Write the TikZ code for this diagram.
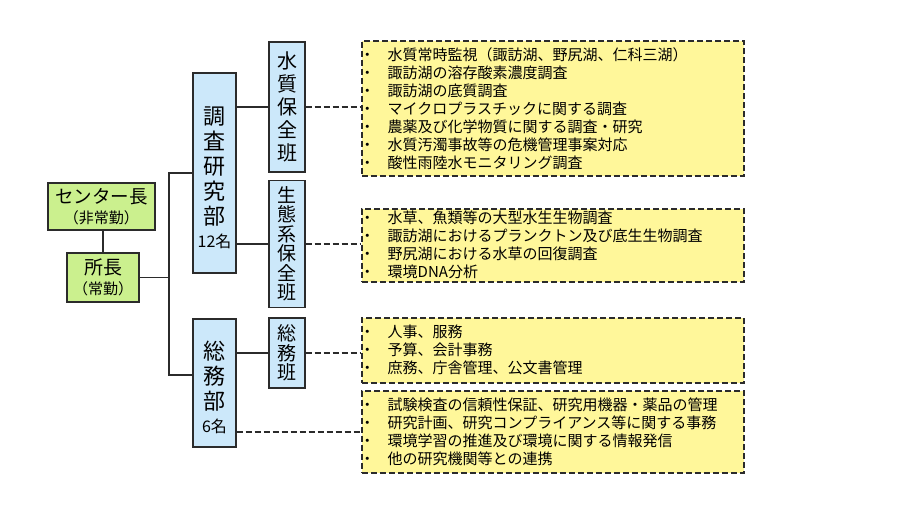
\documentclass[tikz,border=0pt]{standalone}
\usepackage{fontspec}
\setmainfont{Noto Sans CJK JP}
\usetikzlibrary{positioning}
\definecolor{headgreen}{HTML}{CBF08E}
\definecolor{unitblue}{HTML}{CCE8FA}
\definecolor{notecolor}{HTML}{FFF79A}
\definecolor{edgegray}{HTML}{2B2B2B}
\newcommand{\itm}[1]{\makebox[26pt][l]{\hspace{-2pt}・}#1}

\begin{document}
\begin{tikzpicture}[x=1pt,y=-1pt,line width=1.3pt,
  headbox/.style={draw=edgegray,fill=headgreen,inner sep=0pt,align=center,font=\fontsize{15}{20}\selectfont},
  unitbox/.style={draw=edgegray,fill=unitblue,inner sep=0pt,align=center},
  notebox/.style={draw=edgegray,fill=notecolor,line width=1.5pt,dash pattern=on 6pt off 3pt,anchor=north west,
    inner sep=0pt,text width=382pt,align=left,font=\fontsize{15}{18}\selectfont},
  link/.style={draw=edgegray},
  duty/.style={draw=edgegray,line width=1.5pt,dash pattern=on 6pt off 3pt}]
\useasboundingbox (0,0) rectangle (900,507);

\node[headbox,minimum width=107pt,minimum height=47pt] (chief) at (101.5,206.5)
  {{\fontsize{18.5}{20}\selectfont センター長}\\（非常勤）};
\node[headbox,minimum width=72pt,minimum height=49pt] (director) at (103,277.5)
  {{\fontsize{19}{20}\selectfont 所長}\\（常勤）};

\node[unitbox,minimum width=43pt,minimum height=200pt,font=\fontsize{22}{25}\selectfont] (research) at (214.5,173)
  {\rule{0pt}{28pt}調\\査\\研\\究\\部\\[-2pt]{\fontsize{16}{18}\selectfont 12名}};
\node[unitbox,minimum width=43pt,minimum height=128pt,font=\fontsize{22}{25}\selectfont] (general) at (214.5,383)
  {\rule{0pt}{28pt}総\\務\\部\\[-2pt]{\fontsize{16}{18}\selectfont 6名}};

\node[unitbox,minimum width=36pt,minimum height=130pt,font=\fontsize{20}{23}\selectfont] (water) at (287,107)
  {水\\質\\保\\全\\班};
\node[unitbox,minimum width=36pt,minimum height=127pt,font=\fontsize{19}{19.5}\selectfont] (eco) at (287,244)
  {生\\態\\系\\保\\全\\班};
\node[unitbox,minimum width=36pt,minimum height=70pt,font=\fontsize{19}{19.5}\selectfont] (admin) at (287,353)
  {総\\務\\班};

\node[notebox,minimum height=135pt] (waternote) at (361,40)
  {\itm{水質常時監視（諏訪湖、野尻湖、仁科三湖）}\\
   \itm{諏訪湖の溶存酸素濃度調査}\\
   \itm{諏訪湖の底質調査}\\
   \itm{マイクロプラスチックに関する調査}\\
   \itm{農薬及び化学物質に関する調査・研究}\\
   \itm{水質汚濁事故等の危機管理事案対応}\\
   \itm{酸性雨陸水モニタリング調査}};
\node[notebox,minimum height=73pt] (econote) at (361,208)
  {\itm{水草、魚類等の大型水生生物調査}\\
   \itm{諏訪湖におけるプランクトン及び底生生物調査}\\
   \itm{野尻湖における水草の回復調査}\\
   \itm{環境DNA分析}};
\node[notebox,minimum height=65pt] (adminnote) at (361,317)
  {\itm{人事、服務}\\
   \itm{予算、会計事務}\\
   \itm{庶務、庁舎管理、公文書管理}};
\node[notebox,minimum height=82pt] (dutynote) at (361,390)
  {\itm{試験検査の信頼性保証、研究用機器・薬品の管理}\\
   \itm{研究計画、研究コンプライアンス等に関する事務}\\
   \itm{環境学習の推進及び環境に関する情報発信}\\
   \itm{他の研究機関等との連携}};

\coordinate (trunk) at (169,277.5);
\draw[link] (chief.south -| director.north) -- (director.north);
\draw[link] (director.east) -- (trunk);
\draw[link] (research.west) -| (trunk);
\draw[link] ([yshift=8pt]general.west) -| (trunk);
\draw[link] (research.east |- water.west) -- (water.west);
\draw[link] (research.east |- eco.west) -- (eco.west);
\draw[link] (general.east |- admin.west) -- (admin.west);
\draw[duty] (water.east) -- (water.east -| waternote.west);
\draw[duty] (eco.east) -- (eco.east -| econote.west);
\draw[duty] (admin.east) -- (admin.east -| adminnote.west);
\draw[duty] (general.east |- dutynote.west) -- (dutynote.west);
\end{tikzpicture}
\end{document}
